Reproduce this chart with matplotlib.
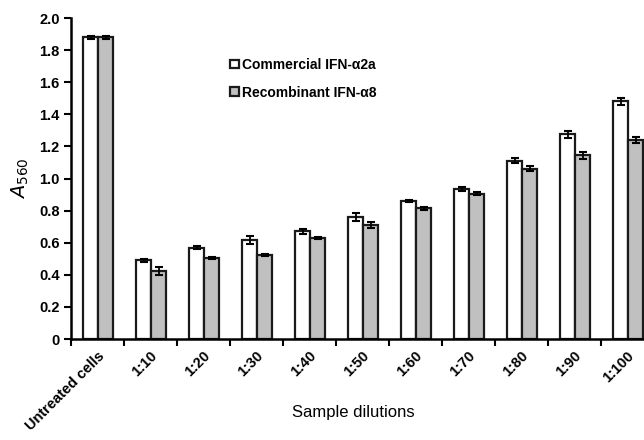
import numpy as np
import matplotlib.pyplot as plt

plt.rcParams['font.family'] = ['Liberation Sans', 'DejaVu Sans']

categories = ['Untreated cells', '1:10', '1:20', '1:30', '1:40', '1:50',
              '1:60', '1:70', '1:80', '1:90', '1:100']
commercial = [1.88, 0.49, 0.57, 0.615, 0.67, 0.76, 0.86, 0.935, 1.11, 1.275, 1.48]
commercial_err = [0.01, 0.01, 0.01, 0.025, 0.015, 0.025, 0.008, 0.01, 0.015, 0.02, 0.02]
recombinant = [1.88, 0.425, 0.505, 0.525, 0.63, 0.71, 0.815, 0.905, 1.06, 1.145, 1.24]
recombinant_err = [0.01, 0.025, 0.008, 0.005, 0.008, 0.02, 0.008, 0.01, 0.015, 0.022, 0.02]

fig = plt.figure(figsize=(6.44, 4.4), dpi=100)
ax = fig.add_axes([0.110, 0.2295, 0.905, 0.7295])

x = np.arange(len(categories))
w = 0.285
ekw = dict(elinewidth=1.3, capthick=1.5)
ax.bar(x - w / 2 + 0.02, commercial, w, yerr=commercial_err, color='white',
       edgecolor='#1a1a1a', linewidth=1.6, capsize=3, error_kw=ekw,
       label='Commercial IFN-\u03b12a')
ax.bar(x + w / 2 + 0.02, recombinant, w, yerr=recombinant_err, color='#c0c0c0',
       edgecolor='#1a1a1a', linewidth=1.6, capsize=3, error_kw=ekw,
       label='Recombinant IFN-\u03b18')

ax.set_xlim(-0.5, len(categories) - 0.5)
ax.set_ylim(0, 2.0)
ax.set_yticks(np.arange(0, 2.01, 0.2))
ax.set_yticklabels(['0'] + ['%.1f' % v for v in np.arange(0.2, 2.01, 0.2)],
                   fontweight='bold', fontsize=10.5)

# tick marks between groups, labels at group centres
ax.set_xticks(np.arange(-0.5, len(categories), 1.0))
ax.set_xticklabels([])
ax.set_xticks(x, minor=True)
ax.set_xticklabels(categories, minor=True, rotation=45, ha='right',
                   rotation_mode='anchor', fontweight='bold', fontsize=10.5)
ax.tick_params(axis='x', which='minor', length=0, pad=7)
ax.tick_params(axis='x', which='major', length=5, width=1.5, direction='out')
ax.tick_params(axis='y', length=5, width=1.5, direction='out', pad=3)

for s in ['top', 'right']:
    ax.spines[s].set_visible(False)
for s in ['left', 'bottom']:
    ax.spines[s].set_linewidth(1.8)

ax.set_ylabel('$A_{\\mathrm{560}}$', fontsize=14, labelpad=6)
ax.set_xlabel('Sample dilutions', fontsize=12)
ax.xaxis.set_label_coords(0.485, -0.205)

leg = ax.legend(loc='upper left', bbox_to_anchor=(0.252, 0.915), frameon=False,
                prop={'weight': 'bold', 'size': 10}, handlelength=0.6,
                handleheight=0.6, handletextpad=0.25, labelspacing=1.0)

fig.savefig('out.png', dpi=100)
